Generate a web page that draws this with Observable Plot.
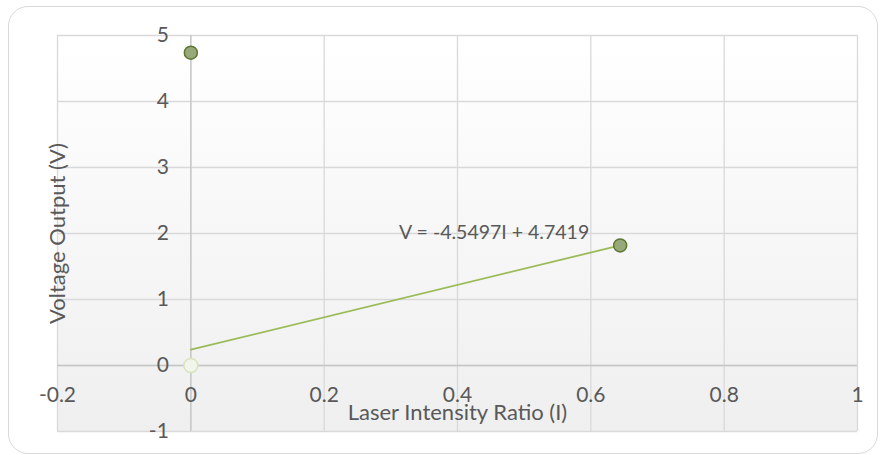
<!DOCTYPE html>
<html>
<head>
<meta charset="utf-8">
<script src="https://cdn.jsdelivr.net/npm/d3@7"></script>
<script src="https://cdn.jsdelivr.net/npm/@observablehq/plot@0.6"></script>
<style>
  html, body { margin: 0; padding: 0; background: #ffffff; }
  #wrap { position: relative; width: 882px; height: 455px; overflow: hidden; }
  #border { position: absolute; left: 8px; top: 6px; width: 870px; height: 448px; border: 1px solid #d9d9d9; border-radius: 20px; box-sizing: border-box; }
  #chart { position: absolute; left: 0; top: 0; }
  svg { font-family: Lato, "Open Sans", sans-serif; }
</style>
</head>
<body>
<div id="wrap"><div id="border"></div><div id="chart"></div></div>
<script>
const intensity = [0, 0.644];
const voltage = [4.74, 1.82];
const refIntensity = [0];
const refVoltage = [0];
const trendIntensity = [0, 0.644];
const trendVoltage = [0.24, 1.82];
const xTicks = [-0.2, 0, 0.2, 0.4, 0.6, 0.8, 1];
const yTicks = [-1, 0, 1, 2, 3, 4, 5];
const equationLabel = "V = -4.5497I + 4.7419";
const equationAt = [0.455, 2.0];
const xTitle = "Laser Intensity Ratio (I)";
const yTitle = "Voltage Output (V)";

const pts = intensity.map((x, i) => ({x, y: voltage[i]}));
const ref = refIntensity.map((x, i) => ({x, y: refVoltage[i]}));
const trend = trendIntensity.map((x, i) => ({x, y: trendVoltage[i]}));

const gradientDefs = () => {
  const g = d3.create("svg:defs");
  const lg = g.append("linearGradient").attr("id", "bg").attr("x1", 0).attr("y1", 0).attr("x2", 0).attr("y2", 1);
  lg.append("stop").attr("offset", "0%").attr("stop-color", "#ffffff");
  lg.append("stop").attr("offset", "100%").attr("stop-color", "#efefef");
  return g.node();
};

const chart = Plot.plot({
  width: 882,
  height: 455,
  marginLeft: 57,
  marginRight: 25,
  marginTop: 35,
  marginBottom: 24,
  style: {fontSize: "16px", color: "#595959", background: "transparent"},
  x: {domain: [-0.2, 1], axis: null},
  y: {domain: [-1, 5], axis: null},
  marks: [
    gradientDefs,
    Plot.frame({fill: "url(#bg)", stroke: "none"}),
    Plot.ruleX(xTicks, {stroke: "#d9d9d9", strokeWidth: 1.3}),
    Plot.ruleY(yTicks, {stroke: "#d9d9d9", strokeWidth: 1.3}),
    Plot.ruleX([0], {stroke: "#c6c6c6", strokeWidth: 1.3}),
    Plot.ruleY([0], {stroke: "#c6c6c6", strokeWidth: 1.3}),
    Plot.text(yTicks, {x: 0, y: d => d, text: d => String(d), textAnchor: "end", lineAnchor: "middle", dx: -22, fill: "#595959", fontSize: 21}),
    Plot.text(xTicks, {x: d => d, y: 0, text: d => String(d), lineAnchor: "middle", dy: 30, fill: "#595959", fontSize: 21}),
    Plot.line(trend, {x: "x", y: "y", stroke: "#9bbb59", strokeWidth: 1.8}),
    Plot.dot(ref, {x: "x", y: "y", r: 7, fill: "#f2f5ea", stroke: "#d7e4bd", strokeWidth: 1.5}),
    Plot.dot(pts, {x: "x", y: "y", r: 6.5, fill: "#97a97a", stroke: "#5f7530", strokeWidth: 1.5}),
    Plot.text([equationLabel], {x: equationAt[0], y: equationAt[1], text: d => d, lineAnchor: "middle", fill: "#595959", fontSize: 19.5, dy: -1}),
    Plot.text([xTitle], {frameAnchor: "bottom", text: d => d, lineAnchor: "middle", textAnchor: "middle", dy: -18.5, fill: "#595959", fontSize: 22}),
    Plot.text([yTitle], {frameAnchor: "left", text: d => d, rotate: -90, lineAnchor: "middle", textAnchor: "middle", fill: "#595959", fontSize: 22})
  ]
});
document.getElementById("chart").appendChild(chart);
</script>
</body>
</html>
